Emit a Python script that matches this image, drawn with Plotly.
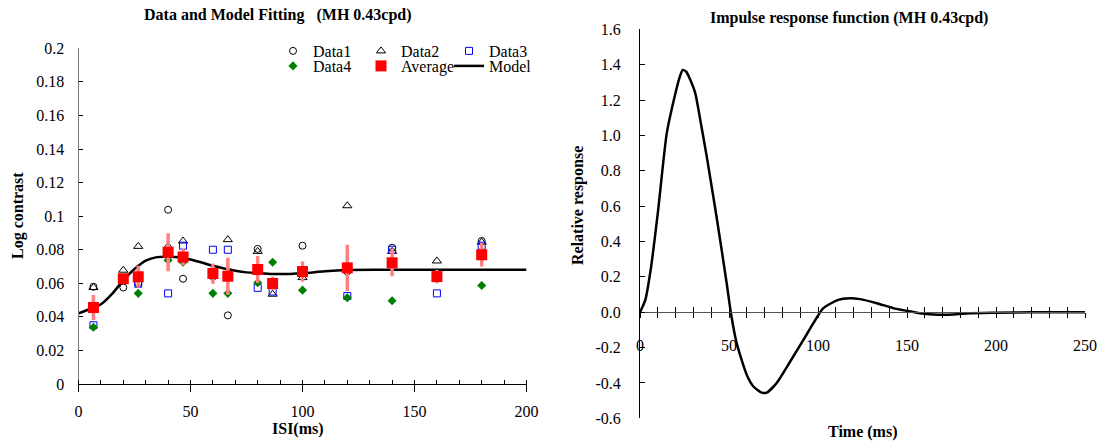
import plotly.graph_objects as go

# ---------------- data ----------------
isi = [6.67, 20, 26.67, 40, 46.67, 60, 66.67, 80, 86.67, 100, 120, 140, 160, 180]
data1 = [0.0579, 0.0575, 0.0600, 0.1038, 0.0627, 0.0640, 0.0409, 0.0805, 0.0585, 0.0824, 0.0670, 0.0812, 0.0640, 0.0852]
data2 = [0.0575, 0.0678, 0.0820, 0.0820, 0.0852, 0.0660, 0.0860, 0.0790, 0.0535, 0.0634, 0.1062, 0.0790, 0.0733, 0.0845]
data3 = [0.0350, 0.0630, 0.0597, 0.0540, 0.0824, 0.0800, 0.0800, 0.0573, 0.0551, 0.0663, 0.0524, 0.0800, 0.0540, 0.0824]
data4 = [0.0338, 0.0630, 0.0540, 0.0738, 0.0725, 0.0540, 0.0540, 0.0603, 0.0725, 0.0559, 0.0514, 0.0496, 0.0640, 0.0587]
average = [0.0456, 0.0627, 0.0639, 0.0785, 0.0757, 0.0658, 0.0642, 0.0682, 0.0599, 0.0670, 0.0692, 0.0722, 0.0640, 0.0770]
avg_err = [0.0074, 0.0030, 0.0065, 0.0113, 0.0050, 0.0060, 0.0110, 0.0080, 0.0040, 0.0060, 0.0138, 0.0080, 0.0040, 0.0070]

model_x = [0, 5, 10, 15, 20, 25, 30, 35, 40, 45, 50, 55, 60, 65, 70, 75, 80, 90, 100, 110, 120, 140, 160, 180, 200]
model_y = [0.0421, 0.0447, 0.0475, 0.0537, 0.0618, 0.0685, 0.0735, 0.0756, 0.0758, 0.0755, 0.0742, 0.0724,
           0.0704, 0.0688, 0.0675, 0.0665, 0.0660, 0.0655, 0.0660, 0.0672, 0.0679, 0.0680, 0.0680, 0.0680, 0.0680]

irf_t = [0, 3, 6, 10, 15, 19, 22, 24, 26, 28, 31, 34, 37.5, 43, 48.7, 51, 54.3, 60, 63.7, 68.4, 71.2, 76.8, 84.3,
         91.8, 97.4, 103, 111.4, 118, 123.6, 133, 142.3, 150.2, 157.3, 164.8, 176, 185.4, 200, 220, 250]
irf_r = [0, 0.07, 0.24, 0.56, 1.01, 1.20, 1.32, 1.37, 1.36, 1.32, 1.24, 1.08, 0.88, 0.54, 0.164, 0.0, -0.175,
         -0.355, -0.42, -0.455, -0.455, -0.40, -0.28, -0.157, -0.062, 0.023, 0.07, 0.079, 0.074, 0.051, 0.023,
         0.007, -0.006, -0.013, -0.013, -0.006, -0.003, 0.0, 0.0]

left_x_ticks = [0, 50, 100, 150, 200]
right_x_ticks = list(range(0, 260, 10))
right_x_text = [str(v) if v % 50 == 0 else "" for v in right_x_ticks]
right_y_ticks = [-0.6, -0.4, -0.2, 0.0, 0.2, 0.4, 0.6, 0.8, 1.0, 1.2, 1.4, 1.6]
right_y_text = ["-0.6", "-0.4", "-0.2", "0.0", "0.2", "0.4", "0.6", "0.8", "1.0", "1.2", "1.4", "1.6"]

# ---------------- layout helpers ----------------
W, H = 1102, 446
FONT = "Liberation Serif"


def px_x(p):
    return p / W


def px_y(p):
    return (H - p) / H


fig = go.Figure()

fig.add_trace(go.Scatter(x=isi, y=data1, mode="markers", name="Data1", legend="legend",
                         marker=dict(symbol="circle-open", size=7, color="black", line=dict(width=1))))
fig.add_trace(go.Scatter(x=isi, y=data2, mode="markers", name="Data2", legend="legend",
                         marker=dict(symbol="triangle-up-open", size=8, color="black", line=dict(width=1))))
fig.add_trace(go.Scatter(x=isi, y=data3, mode="markers", name="Data3", legend="legend",
                         marker=dict(symbol="square-open", size=7, color="#0000FF", line=dict(width=1))))
fig.add_trace(go.Scatter(x=isi, y=data4, mode="markers", name="Data4", legend="legend2", legendrank=1,
                         marker=dict(symbol="diamond", size=7, color="#008000")))
fig.add_trace(go.Scatter(x=model_x, y=model_y, mode="lines", name="Model", legend="legend2", legendrank=3,
                         line=dict(color="black", width=2.5, shape="spline", smoothing=0.8)))
fig.add_trace(go.Scatter(x=isi, y=average, mode="markers", name="Average", legend="legend2", legendrank=2,
                         marker=dict(symbol="square", size=11, color="#FF0000"),
                         error_y=dict(type="data", array=avg_err, color="#FF8080", thickness=3.5, width=0)))

fig.add_trace(go.Scatter(x=irf_t, y=irf_r, mode="lines", showlegend=False, xaxis="x2", yaxis="y2",
                         line=dict(color="black", width=2.5, shape="spline", smoothing=0.6)))
# empty trace that carries the overlay tick axis
fig.add_trace(go.Scatter(x=[], y=[], showlegend=False, xaxis="x3", yaxis="y2", hoverinfo="skip"))

tickfont = dict(family=FONT, size=16, color="black")

fig.update_layout(
    width=W, height=H,
    margin=dict(l=0, r=0, t=0, b=0, pad=0, autoexpand=False),
    paper_bgcolor="white", plot_bgcolor="white",
    font=dict(family=FONT, color="black"),
    xaxis=dict(domain=[px_x(78.5), px_x(526.5)], range=[0, 200], anchor="y", automargin=False,
               showgrid=False, zeroline=False, showline=True, linecolor="black", linewidth=1,
               tickvals=left_x_ticks, ticks="outside", ticklen=7, tickcolor="black",
               minor=dict(ticks="inside", dtick=10, ticklen=4, tickcolor="black", showgrid=False),
               tickfont=tickfont, ticklabelstandoff=6),
    yaxis=dict(domain=[px_y(384), px_y(48.3)], range=[0, 0.2], anchor="x", automargin=False,
               showgrid=False, zeroline=False, showline=True, linecolor="#777777", linewidth=1,
               dtick=0.02, ticks="inside", ticklen=4, tickcolor="black",
               tickfont=tickfont, ticklabelstandoff=10),
    xaxis2=dict(domain=[px_x(640), px_x(1085)], range=[0, 250], anchor="free", position=px_y(312.3),
                automargin=False,
                showgrid=False, zeroline=False, showline=True, linecolor="#555555", linewidth=1,
                tickvals=right_x_ticks, ticktext=right_x_text, ticks="outside", ticklen=5,
                tickcolor="black", tickfont=tickfont, ticklabelstandoff=13),
    xaxis3=dict(overlaying="x2", range=[0, 250], anchor="free", position=px_y(312.3), automargin=False,
                showgrid=False, zeroline=False, showline=False,
                tickvals=right_x_ticks, ticks="inside", ticklen=5, tickcolor="black",
                showticklabels=False),
    yaxis2=dict(domain=[px_y(418.3), px_y(29.3)], range=[-0.6, 1.6], anchor="x2", automargin=False,
                showgrid=False, zeroline=False, showline=True, linecolor="black", linewidth=1,
                tickvals=right_y_ticks, ticktext=right_y_text, ticks="inside", ticklen=5,
                tickcolor="black", tickfont=tickfont, ticklabelstandoff=15),
    legend=dict(orientation="h", x=px_x(273), y=px_y(34), xanchor="left", yanchor="top",
                entrywidth=43, entrywidthmode="pixels", bgcolor="rgba(0,0,0,0)",
                font=dict(family=FONT, size=16, color="black"), tracegroupgap=0),
    legend2=dict(orientation="h", x=px_x(273), y=px_y(49), xanchor="left", yanchor="top",
                 entrywidth=43, entrywidthmode="pixels", bgcolor="rgba(0,0,0,0)",
                 font=dict(family=FONT, size=16, color="black"), tracegroupgap=0),
    showlegend=True,
)

title_font = dict(family=FONT, size=16, color="black")
annotations = [
    dict(text="<b>Data and Model Fitting\u00a0\u00a0\u00a0(MH 0.43cpd)</b>", x=px_x(278), y=px_y(15)),
    dict(text="<b>Impulse response function (MH 0.43cpd)</b>", x=px_x(849), y=px_y(18)),
    dict(text="<b>Log contrast</b>", x=px_x(18), y=px_y(216), textangle=-90),
    dict(text="<b>ISI(ms)</b>", x=px_x(298), y=px_y(429)),
    dict(text="<b>Relative response</b>", x=px_x(578), y=px_y(206), textangle=-90),
    dict(text="<b>Time (ms)</b>", x=px_x(862), y=px_y(432)),
]
for a in annotations:
    a.update(xref="paper", yref="paper", xanchor="center", yanchor="middle", showarrow=False,
             font=title_font)
fig.update_layout(annotations=annotations)

fig.write_html("out.html")
